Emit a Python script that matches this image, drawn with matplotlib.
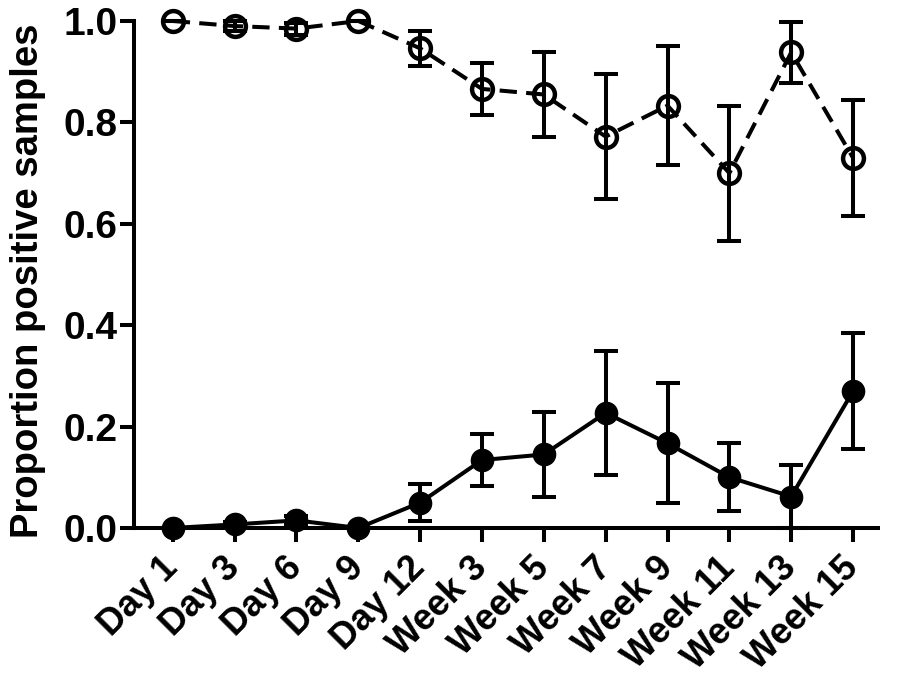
import matplotlib
matplotlib.use("Agg")
import matplotlib.pyplot as plt

labels = ["Day 1", "Day 3", "Day 6", "Day 9", "Day 12", "Week 3", "Week 5",
          "Week 7", "Week 9", "Week 11", "Week 13", "Week 15"]
open_vals = [1.0, 0.99, 0.985, 1.0, 0.946, 0.866, 0.855, 0.772, 0.833, 0.70, 0.938, 0.73]
open_err = [0.0, 0.009, 0.012, 0.0, 0.035, 0.052, 0.084, 0.123, 0.118, 0.133, 0.06, 0.115]
filled_vals = [0.0, 0.007, 0.015, 0.0, 0.05, 0.134, 0.145, 0.227, 0.167, 0.10, 0.062, 0.27]
filled_err = [0.0, 0.004, 0.008, 0.0, 0.036, 0.052, 0.084, 0.123, 0.118, 0.067, 0.062, 0.114]

plt.rcParams['font.family'] = ['Liberation Sans', 'DejaVu Sans']
plt.rcParams['font.weight'] = 'bold'

fig = plt.figure(figsize=(8.98, 6.79), dpi=100)
ax = fig.add_axes([0.149, 0.2224, 0.8285, 0.7467])
x = list(range(len(labels)))
lw = 2.9

# markers first, then lines and error bars on top (as in the original)
ax.plot(x, open_vals, ls='none', marker='o', ms=15, mfc='white', mec='black',
        mew=3.2, clip_on=False, zorder=2)
ax.plot(x, filled_vals, ls='none', marker='o', ms=16, mfc='black', mec='black',
        clip_on=False, zorder=2)
ax.plot(x, open_vals, color='black', lw=lw, ls=(0, (4.3, 2.3)), clip_on=False, zorder=3)
ax.plot(x, filled_vals, color='black', lw=lw, ls='-', clip_on=False, zorder=3)
for vals, err in [(open_vals, open_err), (filled_vals, filled_err)]:
    eb = ax.errorbar(x, vals, yerr=err, fmt='none', ecolor='black', elinewidth=lw,
                     capsize=8.5, capthick=lw, zorder=3)
    for art in eb.lines[1] + eb.lines[2]:
        art.set_clip_on(False)

ax.set_ylim(0, 1.0)
ax.set_xlim(-0.63, 11.4)
ax.set_yticks([0.0, 0.2, 0.4, 0.6, 0.8, 1.0])
ax.set_yticklabels(["0.0", "0.2", "0.4", "0.6", "0.8", "1.0"])
ax.set_xticks(x)
ax.set_xticklabels(labels, rotation=45, ha='right', va='center', rotation_mode='anchor')

for s in ['top', 'right']:
    ax.spines[s].set_visible(False)
for s in ['left', 'bottom']:
    ax.spines[s].set_linewidth(lw)
ax.tick_params(axis='y', width=lw, length=10, labelsize=28, pad=2)
ax.tick_params(axis='x', width=lw, length=10, labelsize=26, pad=15)
for t in ax.get_xticklabels() + ax.get_yticklabels():
    t.set_fontweight('bold')

ax.set_ylabel("Proportion positive samples", fontsize=27.5, fontweight='bold')
ax.yaxis.set_label_coords(-0.118, 0.487)

plt.savefig("out.png", dpi=100)
